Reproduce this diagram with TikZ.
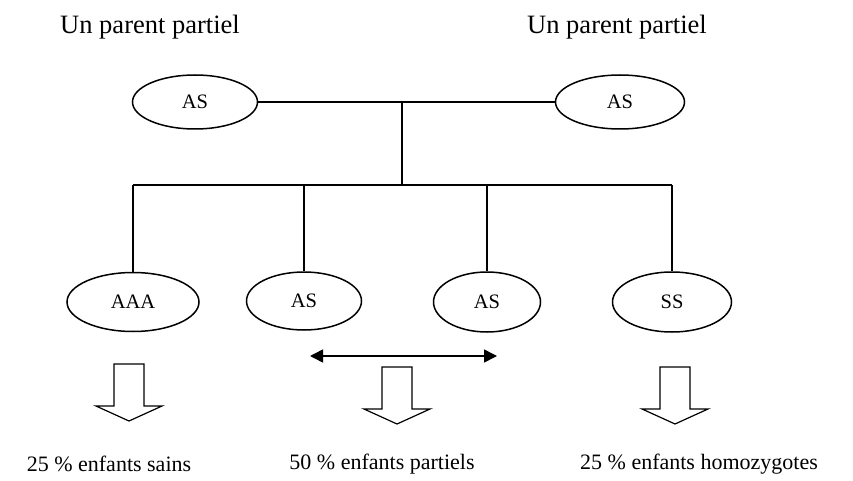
\documentclass[tikz,border=0pt]{standalone}
\usepackage{fontspec}
\setmainfont{Liberation Serif}
\usetikzlibrary{shapes.geometric,arrows.meta}
\begin{document}
\begin{tikzpicture}[x=1pt,y=-1pt,
  geno/.style={draw,ellipse,line width=1.5pt,inner sep=0pt,
    font=\fontsize{20.5}{24}\selectfont},
  link/.style={line width=1.6pt},
  caption/.style={font=\fontsize{26.5}{30}\selectfont,inner sep=0pt},
  result/.style={font=\fontsize{22}{26}\selectfont,inner sep=0pt},
  blockarrow/.style={line width=1.2pt,fill=white,line join=miter}]
\useasboundingbox (0,0) rectangle (853,481);

% parents
\node[caption] (capl) at (150,27) {Un parent partiel};
\node[caption] (capr) at (617,27) {Un parent partiel};
\node[geno,minimum width=125pt,minimum height=54pt] (pl) at (195,102) {AS};
\node[geno,minimum width=129pt,minimum height=54pt] (pr) at (620,102) {AS};

% children
\node[geno,minimum width=132pt,minimum height=59pt] (c1) at (133,302) {AAA};
\node[geno,minimum width=115pt,minimum height=58pt] (c2) at (304,301) {AS};
\node[geno,minimum width=107pt,minimum height=60pt] (c3) at (487,302) {AS};
\node[geno,minimum width=119pt,minimum height=60pt] (c4) at (672,302) {SS};

% pedigree lines
\coordinate (mid) at (402,102);
\coordinate (bar) at (402,185);
\draw[link] (pl.east) -- (pr.west);
\draw[link] (mid) -- (bar);
\draw[link] (c1.north |- bar) -- (c4.north |- bar);
\foreach \c in {c1,c2,c3,c4}
  \draw[link] (\c.north |- bar) -- (\c.north);

% exchange arrow between the two partial children
\coordinate (xa) at (310,356);
\coordinate (xb) at (497,356);
\draw[line width=1.5pt,{Triangle[length=13pt,width=13pt]}-{Triangle[length=13pt,width=13pt]}] (xa) -- (xb);

% block arrows
\foreach \cx/\ty in {129/364,397/367,675/367}{
  \draw[blockarrow] (\cx-15,\ty) -- (\cx+15,\ty) -- (\cx+15,\ty+42)
    -- (\cx+33,\ty+42) -- (\cx,\ty+57) -- (\cx-33,\ty+42)
    -- (\cx-15,\ty+42) -- cycle;
}

% outcomes
\node[result] (r1) at (109,464) {25 \% enfants sains};
\node[result] (r2) at (382,464) {50 \% enfants partiels};
\node[result] (r3) at (699,464) {25 \% enfants homozygotes};
\end{tikzpicture}
\end{document}
